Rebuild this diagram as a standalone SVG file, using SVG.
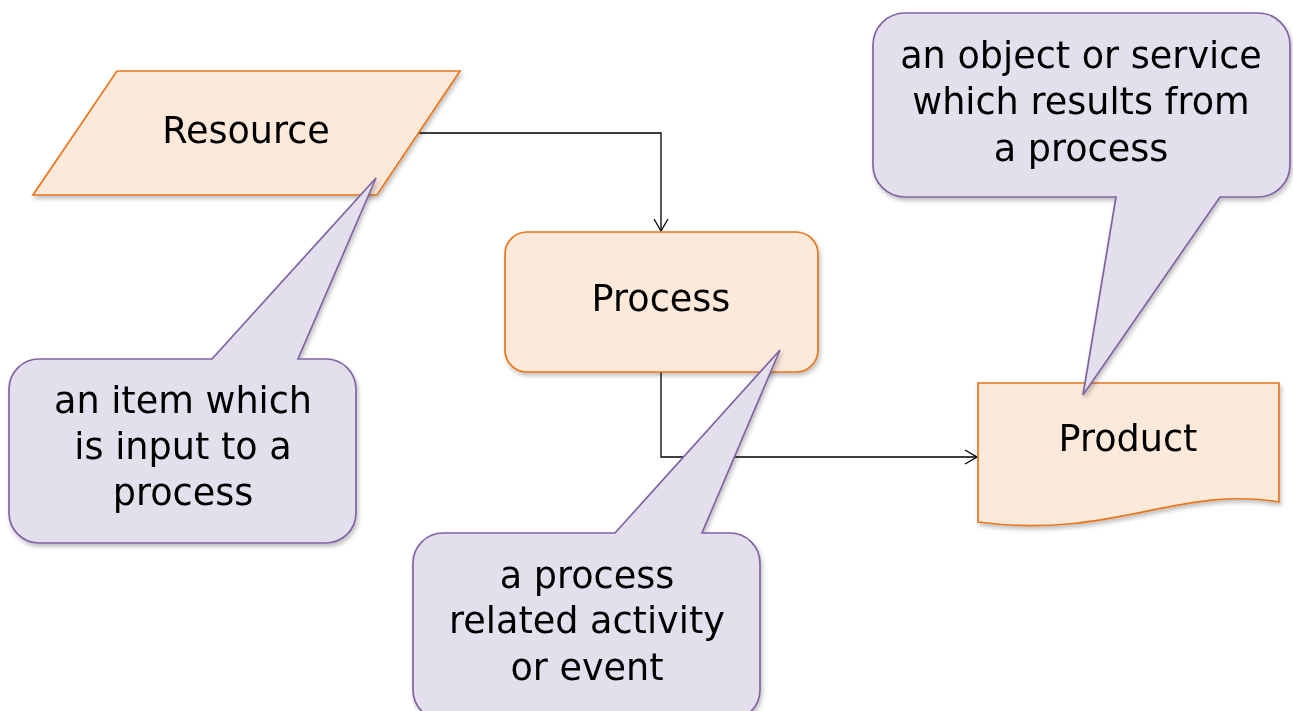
<svg xmlns="http://www.w3.org/2000/svg" width="1293" height="711" viewBox="0 0 1293 711">
  <style>
    .node { fill: #FCE9DA; stroke: #E8761F; stroke-width: 1.7; }
    .callout { fill: #E4DFEC; stroke: #8064A2; stroke-width: 1.7; stroke-linejoin: miter; }
    .conn { fill: none; stroke: #000; stroke-width: 1.3; }
    .label { font-family: "DejaVu Sans", Verdana, sans-serif; font-size: 36.6px; fill: #000; text-anchor: middle; }
  </style>
  <defs>
    <marker id="open-arrow" viewBox="0 0 14 16" refX="13" refY="8" markerWidth="14" markerHeight="16" markerUnits="userSpaceOnUse" orient="auto">
      <path d="M1 1 L13 8 L1 15" fill="none" stroke="#000" stroke-width="1.3"/>
    </marker>
    <filter id="shadow" x="-10%" y="-10%" width="130%" height="130%">
      <feDropShadow dx="1.5" dy="3" stdDeviation="2" flood-color="#000" flood-opacity="0.25"/>
    </filter>
  </defs>

  <rect width="1293" height="711" fill="#fff"/>

  <!-- connectors -->
  <g id="connectors">
    <path class="conn" d="M418 133 H661 V231" marker-end="url(#open-arrow)"/>
    <path class="conn" d="M661 372 V457 H977" marker-end="url(#open-arrow)"/>
  </g>

  <!-- flow nodes -->
  <g id="resource" filter="url(#shadow)">
    <polygon class="node" points="117,71 460,71 377,195 33,195"/>
    <text class="label" x="246" y="143">Resource</text>
  </g>

  <g id="process" filter="url(#shadow)">
    <rect class="node" x="505" y="232" width="313" height="140" rx="22" ry="22"/>
    <text class="label" x="661" y="311">Process</text>
  </g>

  <g id="product" filter="url(#shadow)">
    <path class="node" d="M978 383 H1279 V502 C1180 485 1110 540 978 522 Z"/>
    <text class="label" x="1128" y="451">Product</text>
  </g>

  <!-- explanatory callouts -->
  <g id="callout-resource" filter="url(#shadow)">
    <path class="callout" d="M39 359 H212 L376 178 L298 359 H326 A30 30 0 0 1 356 389 V513 A30 30 0 0 1 326 543 H39 A30 30 0 0 1 9 513 V389 A30 30 0 0 1 39 359 Z"/>
    <text class="label" x="183" y="413">an item which</text>
    <text class="label" x="183" y="459">is input to a</text>
    <text class="label" x="183" y="505">process</text>
  </g>

  <g id="callout-process" filter="url(#shadow)">
    <path class="callout" d="M443 533 H615 L780 350 L702 533 H730 A30 30 0 0 1 760 563 V690 A30 30 0 0 1 730 720 H443 A30 30 0 0 1 413 690 V563 A30 30 0 0 1 443 533 Z"/>
    <text class="label" x="587" y="588">a process</text>
    <text class="label" x="587" y="633">related activity</text>
    <text class="label" x="587" y="680">or event</text>
  </g>

  <g id="callout-product" filter="url(#shadow)">
    <path class="callout" d="M905 13 H1258 A32 32 0 0 1 1290 45 V165 A32 32 0 0 1 1258 197 H1220 L1083 395 L1116 197 H905 A32 32 0 0 1 873 165 V45 A32 32 0 0 1 905 13 Z"/>
    <text class="label" x="1081" y="68">an object or service</text>
    <text class="label" x="1081" y="114">which results from</text>
    <text class="label" x="1081" y="161">a process</text>
  </g>
</svg>
